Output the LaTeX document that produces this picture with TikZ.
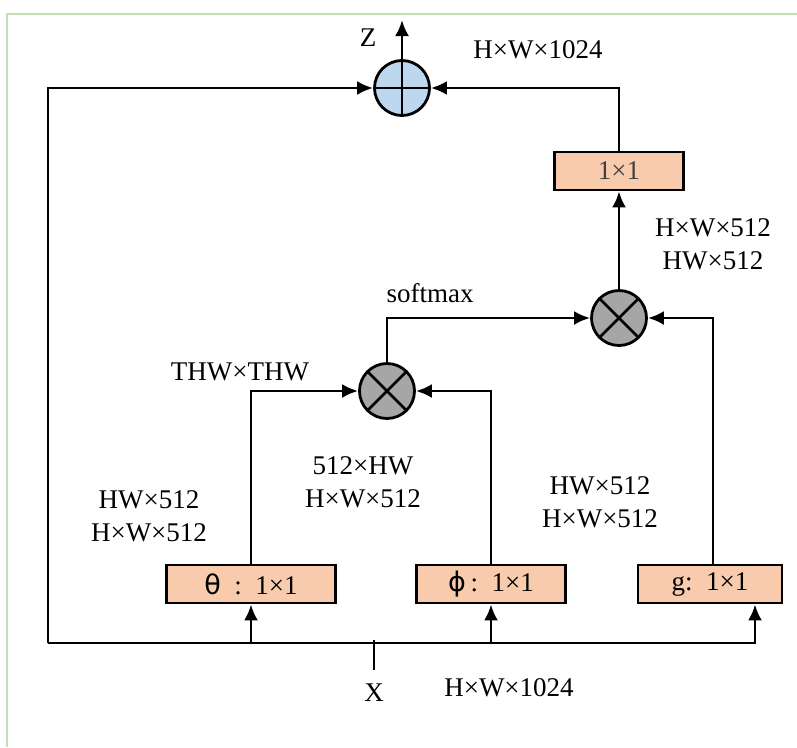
\documentclass[tikz,border=0pt]{standalone}
\usepackage{fontspec}
\setmainfont{Liberation Serif}
\newfontfamily\greekfont{DejaVu Sans}
\usetikzlibrary{arrows.meta,positioning,calc}
\definecolor{boxfill}{HTML}{F8CBAD}
\definecolor{plusfill}{HTML}{BDD7EE}
\definecolor{mulfill}{HTML}{A6A6A6}
\definecolor{framegreen}{HTML}{C5E0B4}
\definecolor{boxtext}{HTML}{404040}
\tikzset{
   conv/.style={ rectangle, draw=black, line width=2.8pt, fill=boxfill, minimum height=38pt, inner sep=0pt, text centered},
   sum/.style={ circle, draw=black, line width=2.8pt, fill=plusfill, minimum size=55pt, inner sep=0pt,
      path picture={\draw[line width=2.8pt] (path picture bounding box.north) -- (path picture bounding box.south)
                    (path picture bounding box.west) -- (path picture bounding box.east);}},
   prod/.style={ circle, draw=black, line width=2.8pt, fill=mulfill, minimum size=55pt, inner sep=0pt,
      path picture={\draw[line width=2.8pt] (path picture bounding box.north west) -- (path picture bounding box.south east)
                    (path picture bounding box.north east) -- (path picture bounding box.south west);}},
   dimtext/.style={ align=center, inner sep=0pt},
   >={Latex[length=16pt,width=14pt]}
}

\begin{document}
\begin{tikzpicture}[x=1pt,y=-1pt,line width=2.8pt,font=\fontsize{27}{33}\selectfont]
  \useasboundingbox (0,0) rectangle (797,747);
  \draw[framegreen,line width=1.5pt] (7,747) -- (7,14) -- (797,14);

  \node[sum]  at (402,88)  (plus) {};
  \node[prod] at (619,318) (mul2) {};
  \node[prod] at (387,391) (mul1) {};

  \node[conv, minimum width=129pt] at (619,171) (out conv)   {\textcolor{boxtext}{1×1}};
  \node[conv, minimum width=169pt] at (251,584) (theta conv) {{\greekfont θ}\enspace:\enspace1×1};
  \node[conv, minimum width=149pt] at (491,584) (phi conv)   {{\greekfont ϕ}\,:\enspace1×1};
  \node[conv, minimum width=144pt] at (710,584) (g conv)     {g:\enspace1×1};

  \coordinate (z out)     at (402,20);
  \coordinate (bus left)  at (48,643);
  \coordinate (bus right) at (755,643);
  \coordinate (x in)      at (374,670);

  \node at (368,38)  (z label)  {Z};
  \node at (374,693) (x label)  {X};
  \node at (538,50)  (top dim)  {H×W×1024};
  \node at (509,688) (bot dim)  {H×W×1024};
  \node at (430,293) (softmax)  {softmax};
  \node at (240,372) (attn dim) {THW×THW};
  \node[dimtext] at (149,516) (theta dim) {HW×512\\H×W×512};
  \node[dimtext] at (363,482) (phi dim)   {512×HW\\H×W×512};
  \node[dimtext] at (600,502) (g dim)     {HW×512\\H×W×512};
  \node[dimtext] at (713,244) (y dim)     {H×W×512\\HW×512};

  \draw[->] (plus) -- (z out);
  \draw[->] (out conv) |- (plus);
  \draw[->] (mul2) -- (out conv);
  \draw[->] (mul1) |- (mul2);
  \draw[->] ([xshift=3pt]g conv.north) |- (mul2);
  \draw[->] (theta conv) |- (mul1);
  \draw[->] (phi conv) |- (mul1);

  \draw[->] (bus left) |- (plus);
  \draw[->] (bus left) -- (bus right) -- (bus right |- g conv.south);
  \draw[->] (theta conv.south |- bus left) -- (theta conv);
  \draw[->] (phi conv.south |- bus left) -- (phi conv);
  \draw (x in) -- ($(x in |- bus left)+(0,-3)$);
\end{tikzpicture}
\end{document}
